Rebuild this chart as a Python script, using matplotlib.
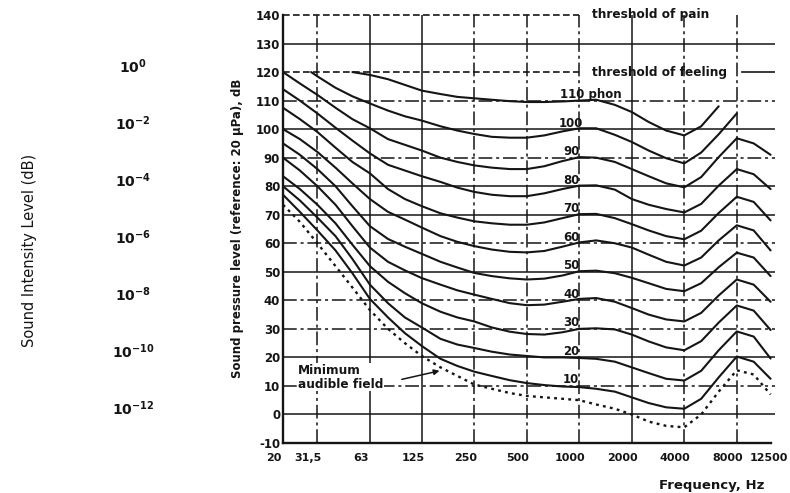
import matplotlib
matplotlib.use("Agg")
import matplotlib.pyplot as plt
import matplotlib.transforms as mtransforms

# ---------------- data ----------------
FREQ_HZ = [20, 25, 31.5, 40, 50, 63, 80, 100, 125, 160, 200, 250, 315, 400, 500,
           630, 800, 1000, 1250, 1600, 2000, 2500, 3150, 4000, 5000, 6300, 8000,
           10000, 12500]

MAF_DB = [73.5, 67.5, 60, 52, 44.5, 36.6, 30, 25, 20.5, 16.5, 13.5, 10.5, 9, 7.5,
          6.5, 6, 5.5, 5, 3.5, 2, 0, -2.5, -4, -4.5, 0, 8, 15.5, 14, 7]

PHON_10 = [77, 71, 64.5, 57.5, 49.5, 40.5, 34, 28.5, 24, 19.5, 17, 15, 13.5, 12, 11,
           10.3, 9.8, 9.6, 9, 8, 6, 4, 2.5, 2, 5.5, 13, 20.3, 18.5, 12.5]
PHON_20 = [80, 75, 69, 62.5, 54.5, 45.5, 39, 34, 30.5, 26.5, 24.5, 23.3, 22, 21, 20.5,
           20, 20, 19.8, 19.5, 18.5, 16.5, 14.5, 12.5, 11.9, 15.3, 22.5, 29.1, 27.3, 19.6]
PHON_30 = [83.5, 79, 73.5, 67, 59.5, 52, 46.5, 42.5, 39, 36, 34, 32.6, 30.5, 29, 28.2,
           28, 28.8, 30, 30.2, 29.8, 28, 25.6, 23.5, 22.5, 25.7, 32.2, 38.2, 36.4, 29.6]
PHON_40 = [90, 85.5, 80, 73.5, 66, 58.5, 53.5, 50.5, 47.8, 45.5, 43.5, 42, 40.5, 39,
           38.3, 38.5, 39.5, 40.5, 40.8, 39.5, 37.3, 35, 33.3, 32.6, 35.6, 41.7, 47.3,
           45.5, 39.5]
PHON_50 = [95, 91, 86, 80, 73, 66, 61.5, 58.8, 56.3, 53.5, 51.5, 49.6, 48.5, 47.7,
           47.3, 47.6, 48.7, 50.2, 50.4, 49.5, 47.9, 46, 44, 43.2, 46, 51.6, 56.7, 55,
           48.5]
PHON_60 = [100, 96.5, 92, 86.5, 81, 75.5, 71, 68.3, 65.5, 62.5, 60.5, 59, 57.8, 57,
           56.8, 57.3, 58.8, 60.3, 61, 60, 58.5, 56, 53.5, 52.2, 55, 61, 66.3, 64.5,
           57.5]
PHON_70 = [107.5, 103.5, 99, 93.5, 88.5, 84.5, 79, 75.5, 73, 70.5, 69, 67.7, 67, 66.5,
           66.5, 67.3, 68.8, 70.2, 70.3, 68.8, 66.7, 64.5, 62.5, 61.4, 64.4, 70.6,
           76.3, 74.5, 68]
PHON_80 = [114, 110, 105.5, 100.5, 96, 91.5, 87.5, 85.5, 83.5, 81.5, 79.5, 78, 77,
           76.5, 76.5, 77.5, 79, 80.2, 80.3, 78.8, 75.5, 73.5, 72, 70.8, 73.8, 80.2,
           86, 84.2, 79]
PHON_90 = [120, 116, 112, 107.5, 103.5, 100.3, 96.5, 94.5, 92.5, 90, 88.5, 87.3, 86.5,
           86, 86, 87, 88.8, 90.2, 90, 88.5, 86, 83.5, 81, 79.6, 83.2, 90.2, 96.8, 95,
           91]
PHON_100 = [None, None, 118.5, 114.5, 111.5, 109, 106.5, 104.5, 103, 101, 99.5, 98.3,
            97.3, 97, 97, 97.8, 99.2, 100.3, 100.3, 98, 95.5, 92.5, 89.8, 88, 91.8,
            98.2, 105.5, None, None]
PHON_110 = [None, None, None, None, 120, 119, 117.5, 115.5, 113.5, 112.3, 111.3,
            110.8, 110.3, 109.8, 109.5, 109.5, 109.7, 110, 110.3, 108.5, 106, 102.5,
            99.5, 97.8, 101, 108, None, None, None]

PHON_LEVELS = [10, 20, 30, 40, 50, 60, 70, 80, 90, 100, 110]
PHON_CURVES = [PHON_10, PHON_20, PHON_30, PHON_40, PHON_50, PHON_60, PHON_70,
               PHON_80, PHON_90, PHON_100, PHON_110]
# frequency where a contour leaves the threshold-of-feeling line
FEELING_START_HZ = {100: 29}

THRESHOLD_PAIN_DB = 140
THRESHOLD_FEELING_DB = 120

XTICK_HZ = [20, 31.5, 63, 125, 250, 500, 1000, 2000, 4000, 8000, 12500]
XTICK_LABELS = ["20", "31,5", "63", "125", "250", "500", "1000", "2000", "4000",
                "8000", "12500"]
YTICKS = list(range(-10, 141, 10))
INTENSITY_EXP = [0, -2, -4, -6, -8, -10, -12]

# ---------------- styles ----------------
INK = "#151515"
SOLID_H = {130, 100, 80, 70, 50, 20, 0}
SOLID_V = {63, 125, 2000}
DASHDOT = (0, (9, 2.5, 2, 2.5))

plt.rcParams["font.family"] = ["DejaVu Sans"]
plt.rcParams["mathtext.fontset"] = "dejavusans"

fig = plt.figure(figsize=(7.9, 4.93), dpi=100)
fig.patch.set_facecolor("white")
ax = fig.add_axes([283 / 790, 1 - 443 / 493, (775 - 283) / 790, (443 - 15) / 493])
ax.set_xscale("log")
ax.set_xlim(20, 13250)
ax.set_ylim(-10, 140)
ax.patch.set_alpha(0)

for s in ("top", "right"):
    ax.spines[s].set_visible(False)
for s in ("left", "bottom"):
    ax.spines[s].set_linewidth(1.7)
    ax.spines[s].set_color(INK)
ax.spines["bottom"].set_bounds(20, 12500)

# horizontal grid lines
for lvl in YTICKS:
    if lvl in (-10, THRESHOLD_PAIN_DB, THRESHOLD_FEELING_DB):
        continue
    ls = "-" if lvl in SOLID_H else DASHDOT
    ax.axhline(lvl, color=INK, lw=1.1, ls=ls, zorder=1)

# vertical grid lines
for f in XTICK_HZ[1:-1]:
    ls = "-" if f in SOLID_V else DASHDOT
    ax.axvline(f, color=INK, lw=1.1, ls=ls, zorder=1)

# thresholds
ax.plot([20, 1000], [THRESHOLD_PAIN_DB] * 2, color=INK, lw=1.2, ls=(0, (4, 2)),
        clip_on=False, zorder=2)
ax.plot([20, 1000], [THRESHOLD_FEELING_DB] * 2, color=INK, lw=1.2, ls=(0, (4, 2)),
        zorder=2)
ax.plot([8570, 13250], [THRESHOLD_FEELING_DB] * 2, color=INK, lw=1.2, zorder=2)
ax.text(1183, THRESHOLD_PAIN_DB, "threshold of pain", ha="left", va="center",
        fontsize=8.7, fontweight="bold", color=INK, clip_on=False)
ax.text(1183, THRESHOLD_FEELING_DB, "threshold of feeling", ha="left", va="center",
        fontsize=8.7, fontweight="bold", color=INK)

# equal-loudness contours
for lvl, vals in zip(PHON_LEVELS, PHON_CURVES):
    xs = [f for f, v in zip(FREQ_HZ, vals) if v is not None]
    ys = [v for v in vals if v is not None]
    if lvl in FEELING_START_HZ:
        xs = [FEELING_START_HZ[lvl]] + xs
        ys = [THRESHOLD_FEELING_DB] + ys
    ax.plot(xs, ys, color=INK, lw=1.5, solid_capstyle="round",
            solid_joinstyle="round", zorder=3)
    if lvl == 110:
        ax.text(775, lvl + 1.0, f"{lvl} phon", ha="left", va="baseline",
                fontsize=8.5, fontweight="bold", color=INK, zorder=4)
    else:
        ax.text(900, lvl + 0.9, str(lvl), ha="center", va="baseline", fontsize=8.5,
                fontweight="bold", color=INK, zorder=4)

# minimum audible field (dotted)
ax.plot(FREQ_HZ, MAF_DB, color=INK, lw=1.7, ls=(0, (1.2, 1.8)), zorder=3)
ax.text(24.4, 13, "Minimum\naudible field", ha="left", va="center", fontsize=8.7,
        fontweight="bold", color=INK, linespacing=1.05, zorder=4,
        bbox=dict(facecolor="white", edgecolor="none", pad=0.6))
ax.annotate("", xy=(158, 15.3), xytext=(96, 12.3),
            arrowprops=dict(arrowstyle="-|>", lw=1.1, color=INK, mutation_scale=8,
                            shrinkA=0, shrinkB=0), zorder=4)

# ticks
ax.set_xticks(XTICK_HZ)
ax.set_xticklabels(XTICK_LABELS)
ax.xaxis.set_minor_locator(matplotlib.ticker.NullLocator())
ax.set_yticks(YTICKS)
ax.set_yticklabels([str(v) for v in YTICKS])
ax.tick_params(axis="both", length=0, labelsize=8.5, colors=INK)
ax.tick_params(axis="x", pad=7, labelsize=8)
ax.tick_params(axis="y", pad=2)
for t in ax.get_xticklabels() + ax.get_yticklabels():
    t.set_fontweight("bold")
# the printed labels sit slightly left of the grid lines
for t, lab in zip(ax.get_xticklabels(), XTICK_LABELS):
    dx = -1.5 / 72 if lab == "12500" else -6.5 / 72
    t.set_transform(t.get_transform() +
                    mtransforms.ScaledTranslation(dx, 0, fig.dpi_scale_trans))

# axis titles
fig.text(238 / 790, 1 - 228 / 493, "Sound pressure level (reference: 20 µPa), dB",
         rotation=90, ha="center", va="center", fontsize=8.5, fontweight="bold",
         color=INK)
fig.text(712 / 790, 1 - 486 / 493, "Frequency, Hz", ha="center", va="center",
         fontsize=9.5, fontweight="bold", color=INK)

# intensity scale on the left
fig.text(30 / 790, 1 - 250 / 493, "Sound Intensity Level (dB)", rotation=90,
         ha="center", va="center", fontsize=10.5, color=INK)
blend = mtransforms.blended_transform_factory(fig.transFigure, ax.transData)
for e in INTENSITY_EXP:
    lvl = THRESHOLD_FEELING_DB + 10 * e
    fig.text(133 / 790, lvl + 2, r"$\mathbf{10^{%d}}$" % e, transform=blend,
             ha="center", va="center", fontsize=10, color=INK)

fig.savefig("out.png", dpi=100, facecolor="white")
